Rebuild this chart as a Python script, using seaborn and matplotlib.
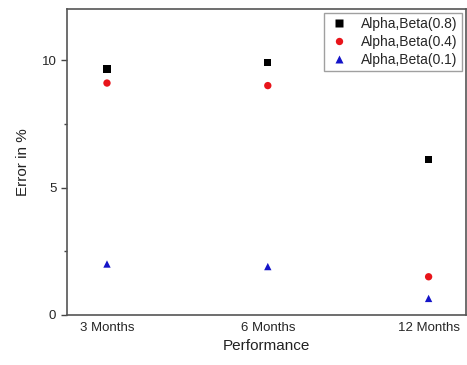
import pandas as pd
import numpy as np
import matplotlib
matplotlib.use("Agg")
import matplotlib.pyplot as plt
import seaborn as sns

periods = ['3 Months', '6 Months', '12 Months']
beta_08 = [9.65, 9.9, 6.1]
beta_04 = [9.1, 9.0, 1.5]
beta_01 = [2.0, 1.9, 0.65]
series = ['Alpha,Beta(0.8)', 'Alpha,Beta(0.4)', 'Alpha,Beta(0.1)']

df = pd.DataFrame({
    'x': list(range(3)) * 3,
    'err': beta_08 + beta_04 + beta_01,
    'series': np.repeat(series, 3),
})

sns.set_style('white')
plt.rcParams['font.family'] = ['Liberation Sans', 'DejaVu Sans']

fig, ax = plt.subplots(figsize=(4.67, 3.65), dpi=100)
sns.scatterplot(data=df, x='x', y='err', hue='series', style='series',
                palette={series[0]: 'black', series[1]: '#e8141a', series[2]: '#1414c8'},
                markers={series[0]: 's', series[1]: 'o', series[2]: '^'},
                s=28, edgecolor='none', ax=ax)

ax.set_xlim(-0.25, 2.23)
ax.set_ylim(0, 12)
ax.set_xticks(range(3))
ax.set_xticklabels(periods)
ax.set_yticks([0, 5, 10])
ax.set_yticks([2.5, 7.5], minor=True)
ax.tick_params(axis='y', which='major', direction='out', length=4, width=1, labelsize=9.5, left=True, color='#444444')
ax.tick_params(axis='y', which='minor', direction='out', length=2.5, width=1, left=True, color='#444444')
ax.tick_params(axis='x', length=0, labelsize=9.5, pad=5)
ax.set_xlabel('Performance', fontsize=11, color='#222222')
ax.set_ylabel('Error in %', fontsize=11, color='#222222', labelpad=8)
for s in ax.spines.values():
    s.set_color('#555555')
    s.set_linewidth(1.2)

ax.legend(loc='upper right', fontsize=10, frameon=True, fancybox=False,
          edgecolor='#888888', handletextpad=0.8, borderpad=0.3,
          labelspacing=0.3, borderaxespad=0.25, handlelength=1.6)

plt.subplots_adjust(left=0.143, right=0.997, top=0.975, bottom=0.137)
fig.savefig('out.png', dpi=100)
